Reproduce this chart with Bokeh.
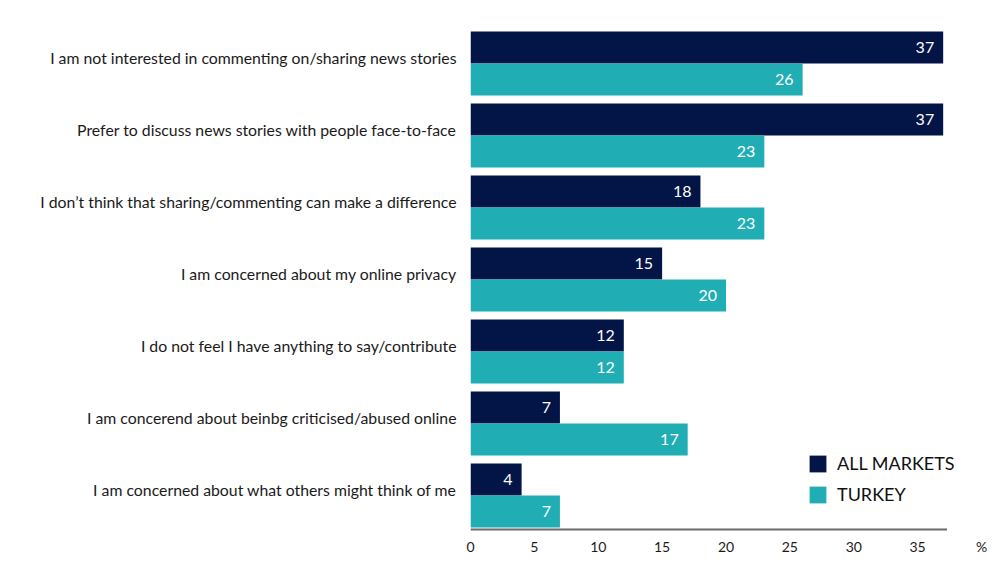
from bokeh.plotting import figure
from bokeh.models import ColumnDataSource, FixedTicker, LabelSet, Legend, LegendItem, Range1d
from bokeh.embed import file_html
from bokeh.core.properties import value
from bokeh.resources import INLINE

categories = [
    "I am not interested in commenting on/sharing news stories",
    "Prefer to discuss news stories with people face-to-face",
    "I don\u2019t think that sharing/commenting can make a difference",
    "I am concerned about my online privacy",
    "I do not feel I have anything to say/contribute",
    "I am concerend about beinbg criticised/abused online",
    "I am concerned about what others might think of me",
]
all_markets = [37, 37, 18, 15, 12, 7, 4]
turkey = [26, 23, 23, 20, 12, 17, 7]
x_ticks = [0, 5, 10, 15, 20, 25, 30, 35, 40]
x_tick_labels = ["0", "5", "10", "15", "20", "25", "30", "35", "%"]
series_names = ["ALL MARKETS", "TURKEY"]

NAVY = "#031446"
TEAL = "#20aeb4"
FONT = "Lato"

n = len(categories)
pos = [float(n - 1 - i) for i in range(n)]      # first category at the top
bar_h = 0.445
off = 0.2225
label_lift = 0.09                                 # category labels sit a little above group centre

src = ColumnDataSource(dict(
    pos_all=[y + off for y in pos],
    pos_tur=[y - off for y in pos],
    all=all_markets,
    tur=turkey,
    all_s=[str(v) for v in all_markets],
    tur_s=[str(v) for v in turkey],
))

p = figure(
    y_range=Range1d(-0.5, n - 0.5),
    x_range=Range1d(0, 40),
    frame_width=511, frame_height=504,
    min_border_left=470, min_border_right=16, min_border_top=27, min_border_bottom=40,
    output_backend="svg", toolbar_location=None,
)

r1 = p.hbar(y="pos_all", right="all", left=0, height=bar_h,
            source=src, color=NAVY, line_color=None)
r2 = p.hbar(y="pos_tur", right="tur", left=0, height=bar_h,
            source=src, color=TEAL, line_color=None)

for col, lab, yc in (("all", "all_s", "pos_all"), ("tur", "tur_s", "pos_tur")):
    p.add_layout(LabelSet(x=col, y=yc, text=lab, source=src,
                          x_offset=-9, text_align="right", text_baseline="middle",
                          text_color="white", text_font=value(FONT), text_font_size="16px"))

# axis baseline (ends just past the longest bar)
base_src = ColumnDataSource(dict(x0=[0], x1=[max(all_markets + turkey) + 0.3], y=[-0.5 + 0.028]))
p.segment(x0="x0", x1="x1", y0="y", y1="y", source=base_src,
          line_color="#6b6b6b", line_width=2)

p.xaxis.ticker = FixedTicker(ticks=x_ticks)
p.xaxis.major_label_overrides = {t: l for t, l in zip(x_ticks, x_tick_labels)}
p.xaxis.axis_line_color = None
p.xaxis.major_tick_line_color = None
p.xaxis.minor_tick_line_color = None
p.xaxis.major_label_text_font = FONT
p.xaxis.major_label_text_font_size = "14px"
p.xaxis.major_label_text_color = "#1a1a1a"
p.xaxis.major_label_standoff = 0

y_ticks = [y + label_lift for y in pos]
p.yaxis.ticker = FixedTicker(ticks=y_ticks, minor_ticks=[])
p.yaxis.major_label_overrides = {t: c for t, c in zip(y_ticks, categories)}
p.yaxis.axis_line_color = None
p.yaxis.major_tick_line_color = None
p.yaxis.minor_tick_line_color = None
p.yaxis.major_label_text_font = FONT
p.yaxis.major_label_text_font_size = "15.8px"
p.yaxis.major_label_text_color = "#1a1a1a"
p.yaxis.major_label_standoff = 8

p.xgrid.grid_line_color = None
p.ygrid.grid_line_color = None
p.outline_line_color = None

legend = Legend(items=[LegendItem(label=series_names[0], renderers=[r1]),
                       LegendItem(label=series_names[1], renderers=[r2])],
                location=(337, 26), padding=0, margin=0, spacing=9,
                glyph_width=21, glyph_height=21, label_height=21,
                label_standoff=9, label_text_font=FONT, label_text_font_size="18px",
                label_text_color="#111111",
                background_fill_alpha=0, border_line_color=None)
p.add_layout(legend)

open("out.html", "w").write(file_html(p, INLINE))
